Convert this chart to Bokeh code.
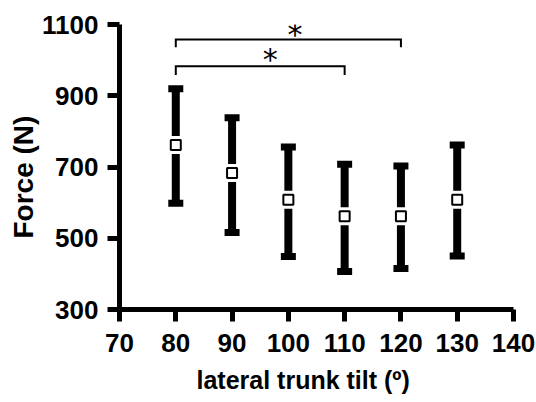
from bokeh.plotting import figure
from bokeh.models import Range1d, FixedTicker, Title
from bokeh.embed import file_html
from bokeh.resources import INLINE
from bokeh.core.properties import value

# data
tilt = [80, 90, 100, 110, 120, 130]
force_mean = [762, 683, 608, 562, 562, 608]
force_upper = [920, 838, 756, 708, 703, 762]
force_lower = [598, 516, 449, 407, 415, 450]

x_ticks = [70, 80, 90, 100, 110, 120, 130, 140]
y_ticks = [300, 500, 700, 900, 1100]

x_title = "lateral trunk tilt (º)"
y_title = "Force (N)"

# significance brackets
bracket_start = [80, 80]
bracket_end = [120, 110]
bracket_level = [1058, 983]
bracket_tip = [1036, 958]
star_x = [101.2, 96.8]
star_y = [1082, 1014]
star_label = ["*", "*"]

p = figure(width=536, height=402, output_backend="svg", toolbar_location=None,
           x_range=Range1d(70, 140), y_range=Range1d(300, 1100),
           min_border_left=119, min_border_right=23, min_border_top=24, min_border_bottom=93)
p.outline_line_color = None
p.xgrid.visible = False
p.ygrid.visible = False
p.background_fill_color = "white"
p.border_fill_color = "white"

# error bars
p.segment(x0=tilt, y0=force_lower, x1=tilt, y1=force_upper, line_width=8,
          line_color="black", line_cap="butt")
p.rect(x=tilt, y=force_upper, width=15, height=7, width_units="screen",
       height_units="screen", fill_color="black", line_color=None)
p.rect(x=tilt, y=force_lower, width=15, height=7, width_units="screen",
       height_units="screen", fill_color="black", line_color=None)

# means
p.scatter(x=tilt, y=force_mean, marker="square", size=18, fill_color="white", line_color=None)
p.scatter(x=tilt, y=force_mean, marker="square", size=10, fill_color="white",
          line_color="black", line_width=2)

# brackets
xs = [[a, a, b, b] for a, b in zip(bracket_start, bracket_end)]
ys = [[t, l, l, t] for l, t in zip(bracket_level, bracket_tip)]
p.multi_line(xs=xs, ys=ys, line_color="black", line_width=2, line_join="miter")
p.text(x=star_x, y=star_y, text=star_label, text_align="center", text_baseline="middle",
       y_offset=4, text_font=value("DejaVu Sans"), text_font_size="30px", text_color="black")

for ax in (p.xaxis, p.yaxis):
    ax.axis_line_width = 5
    ax.axis_line_color = "black"
    ax.major_tick_line_width = 5
    ax.major_tick_line_color = "black"
    ax.major_tick_out = 12
    ax.major_tick_in = 0
    ax.minor_tick_line_color = None
    ax.major_label_text_font = "Liberation Sans"
    ax.major_label_text_font_style = "bold"
    ax.major_label_text_font_size = "26px"
    ax.major_label_text_color = "black"

p.xaxis.ticker = FixedTicker(ticks=x_ticks)
p.yaxis.ticker = FixedTicker(ticks=y_ticks)
p.xaxis.major_label_standoff = 12
p.yaxis.major_label_standoff = 9

p.add_layout(Title(text=x_title, align="left", offset=77, standoff=18,
                   text_font="Liberation Sans", text_font_style="bold",
                   text_font_size="25px", text_color="black"), "below")
p.add_layout(Title(text=y_title, align="left", offset=71, standoff=1,
                   text_font="Liberation Sans", text_font_style="bold",
                   text_font_size="28px", text_color="black"), "left")

open("out.html", "w").write(file_html(p, INLINE))
